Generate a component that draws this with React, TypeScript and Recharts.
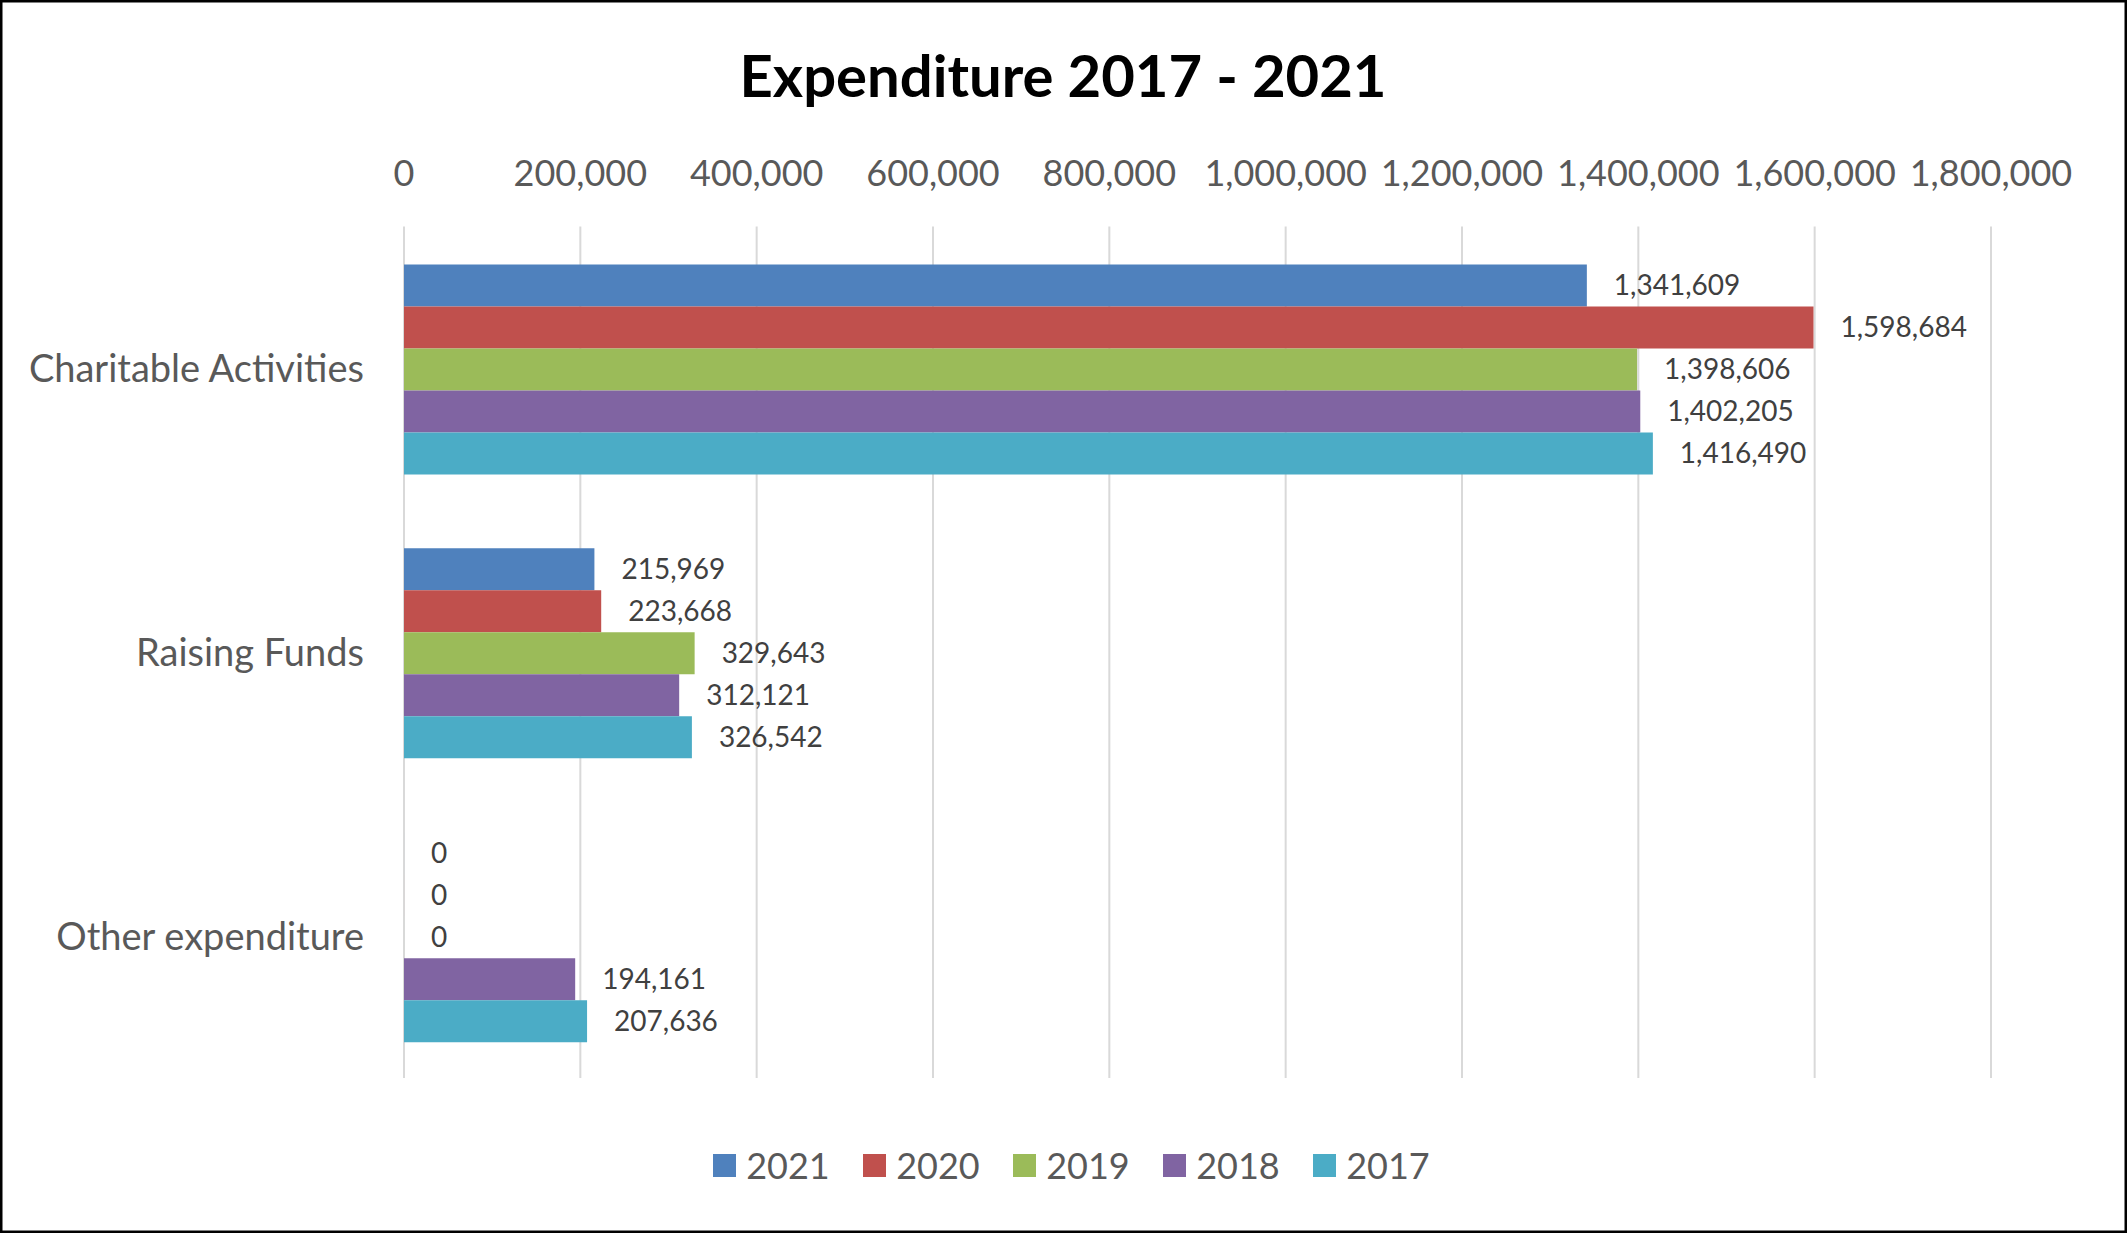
import React from 'react';
import { BarChart, Bar, XAxis, YAxis, CartesianGrid, Legend, LabelList } from 'recharts';

const categories = ['Charitable Activities', 'Raising Funds', 'Other expenditure'];
const s2021 = [1341609, 215969, 0];
const s2020 = [1598684, 223668, 0];
const s2019 = [1398606, 329643, 0];
const s2018 = [1402205, 312121, 194161];
const s2017 = [1416490, 326542, 207636];
const xTicks = [0, 200000, 400000, 600000, 800000, 1000000, 1200000, 1400000, 1600000, 1800000];
const seriesNames = ['2021', '2020', '2019', '2018', '2017'];
const seriesColors = ['#4F81BD', '#C0504D', '#9BBB59', '#8064A2', '#4BACC6'];
const seriesValues = [s2021, s2020, s2019, s2018, s2017];

const data = categories.map((name, i) => {
  const row: Record<string, any> = { name };
  seriesNames.forEach((s, j) => {
    row[s] = seriesValues[j][i];
  });
  return row;
});

const FONT = 'Lato, "Open Sans", sans-serif';
const fmt = (v: any) => Number(v).toLocaleString('en-US');

const LegendContent = (props: any) => {
  const payload = [...(props.payload || [])].sort(
    (a: any, b: any) => seriesNames.indexOf(String(a.value)) - seriesNames.indexOf(String(b.value))
  );
  return (
    <div style={{ height: 155, boxSizing: 'border-box', paddingTop: 67, display: 'flex', justifyContent: 'center', fontFamily: FONT }}>
      <div style={{ display: 'flex', marginLeft: 152 }}>
        {payload.map((p: any, i: number) => (
          <div key={i} style={{ display: 'flex', alignItems: 'center', width: i < payload.length - 1 ? 150 : undefined, height: 40 }}>
            <div style={{ width: 23, height: 23, background: p.color, marginRight: 10 }} />
            <span style={{ fontSize: 36, color: '#595959', lineHeight: '40px' }}>{p.value}</span>
          </div>
        ))}
      </div>
    </div>
  );
};

const ValueLabel = (props: any) => {
  const { x, y, width, height, value } = props;
  if (value === undefined || value === null) return null;
  const w = Number(width || 0) < 1 ? 0 : Number(width);
  const xx = Number(x) + w + 27;
  const yy = Number(y) + Number(height || 0) / 2;
  return (
    <text x={xx} y={yy} dy="0.355em" textAnchor="start" fontSize={28} fill="#404040" fontFamily={FONT}>
      {fmt(value)}
    </text>
  );
};

export default function App() {
  return (
    <div style={{ position: 'absolute', left: 0, top: 0, width: 2127, height: 1233, background: '#fff' }}>
      <BarChart
        width={2127}
        height={1233}
        data={data}
        layout="vertical"
        margin={{ top: 126.5, right: 136, bottom: 0, left: 0 }}
        barCategoryGap="13.4%"
        barGap={0}
      >
        <CartesianGrid horizontal={false} stroke="#d9d9d9" strokeWidth={2} />
        <XAxis
          type="number"
          orientation="top"
          domain={[0, 1800000]}
          ticks={xTicks}
          tickFormatter={fmt}
          axisLine={false}
          tickLine={false}
          tickSize={0}
          tickMargin={41}
          height={100}
          interval={0}
          tick={{ fontSize: 36, fill: '#595959', fontFamily: FONT }}
        />
        <YAxis
          type="category"
          dataKey="name"
          width={404}
          axisLine={false}
          tickLine={false}
          tickSize={0}
          tickMargin={40}
          tick={{ fontSize: 38, fill: '#595959', fontFamily: FONT }}
        />
        <Legend verticalAlign="bottom" content={<LegendContent />} />
        {seriesNames.map((s, j) => (
          <Bar key={s} dataKey={s} name={s} fill={seriesColors[j]} minPointSize={0.01} isAnimationActive={false}>
            <LabelList dataKey={s} content={<ValueLabel />} />
          </Bar>
        ))}
      </BarChart>
      <svg width={2127} height={1233} style={{ position: 'absolute', left: 0, top: 0, pointerEvents: 'none' }}>
        <text x={1063} y={97} textAnchor="middle" fontFamily={FONT} fontWeight={700} fontSize={58} fill="#000">
          Expenditure 2017 - 2021
        </text>
        <rect x={1} y={1} width={2125} height={1231} fill="none" stroke="#000" strokeWidth={3} />
      </svg>
    </div>
  );
}
